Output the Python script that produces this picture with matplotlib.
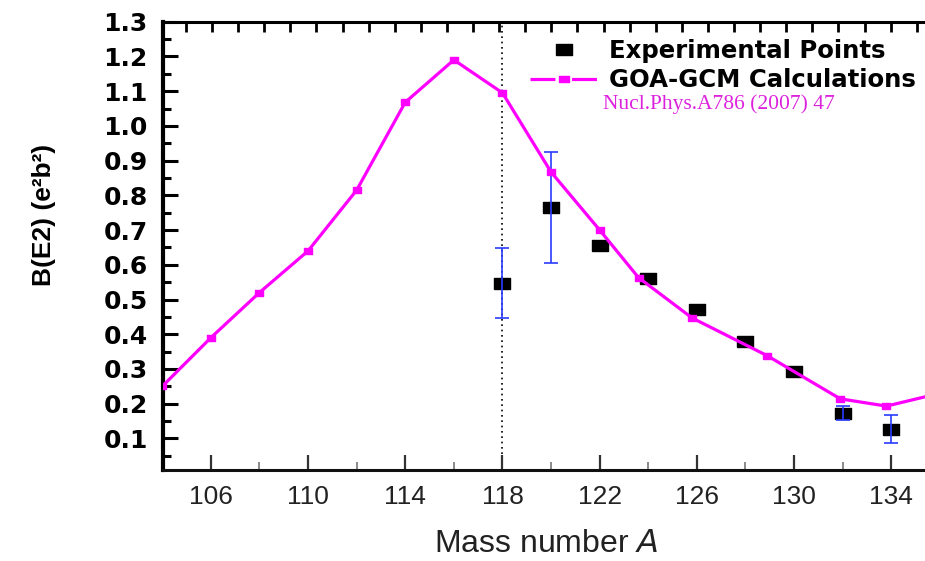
import numpy as np
import matplotlib
matplotlib.use('Agg')
import matplotlib.pyplot as plt
from matplotlib.ticker import MultipleLocator, FixedLocator
from matplotlib.lines import Line2D

# ---- data ----
calc_A = [104, 106, 108, 110, 112, 114, 116, 118, 120, 122, 123.6, 125.8, 128.9, 131.9, 133.8, 136]
calc_B = [0.25, 0.39, 0.52, 0.64, 0.815, 1.068, 1.19, 1.095, 0.867, 0.70, 0.563, 0.447, 0.338, 0.214, 0.193, 0.23]

exp_A = [118, 120, 122, 124, 126, 128, 130, 132, 134]
exp_B = [0.548, 0.765, 0.657, 0.563, 0.474, 0.38, 0.293, 0.172, 0.128]
exp_err = [0.10, 0.16, 0.0, 0.0, 0.0, 0.0, 0.0, 0.02, 0.04]

x_major = [106, 110, 114, 118, 122, 126, 130, 134]
x_labels = ['106', '110', '114', '118', '122', '126', '130', '134']
y_major = [0.1, 0.2, 0.3, 0.4, 0.5, 0.6, 0.7, 0.8, 0.9, 1.0, 1.1, 1.2, 1.3]
y_labels = ['0.1', '0.2', '0.3', '0.4', '0.5', '0.6', '0.7', '0.8', '0.9', '1.0', '1.1', '1.2', '1.3']
marked_A = 118

legend_labels = ['Experimental Points', 'GOA-GCM Calculations']
citation = 'Nucl.Phys.A786 (2007) 47'

MAG = '#ff00ff'
BLUE = '#2a3cff'

# ---- figure ----
W, H = 925, 561
fig = plt.figure(figsize=(W / 100, H / 100), dpi=100)
ax = fig.add_axes([163 / W, 91 / H, 767 / W, 448.3 / H])
ax.set_xlim(104.03, 104.03 + 767 / 24.3)
ax.set_ylim(0.009, 1.3)

# stretched rectangle markers (wider than tall)
rect = [(-1, -0.72), (1, -0.72), (1, 0.72), (-1, 0.72), (-1, -0.72)]

ax.axvline(marked_A, color='black', ls=(0, (1, 2.2)), lw=1.2, zorder=1)

ax.plot(exp_A, exp_B, ls='none', marker=rect, ms=11, color='black', zorder=2)
idx = [i for i, e in enumerate(exp_err) if e > 0]
ax.errorbar([exp_A[i] for i in idx], [exp_B[i] for i in idx],
            yerr=[exp_err[i] for i in idx], fmt='none', ecolor=BLUE,
            elinewidth=1.2, capsize=4.7, capthick=1.2, zorder=3)
ax.plot(calc_A, calc_B, color=MAG, lw=2.3, marker=rect, ms=5.8,
        mfc=MAG, mec=MAG, zorder=4)

# ---- spines ----
for s in ['left', 'bottom', 'top', 'right']:
    ax.spines[s].set_color('black')
ax.spines['left'].set_linewidth(3.0)
ax.spines['bottom'].set_linewidth(2.2)
ax.spines['bottom'].set_color('#111111')
ax.spines['top'].set_linewidth(2.2)
ax.spines['right'].set_visible(False)

# ---- x ticks ----
ax.xaxis.set_major_locator(FixedLocator(x_major))
ax.set_xticklabels(x_labels)
ax.xaxis.set_minor_locator(MultipleLocator(2))
ax.tick_params(axis='x', which='major', direction='in', length=11, width=1.6,
               color='#333333', pad=11, labelsize=19, labelcolor='#222222',
               top=False)
ax.tick_params(axis='x', which='minor', direction='in', length=6, width=1.2,
               color='#777777', top=False)
for t in ax.get_xticklabels():
    t.set_family('Liberation Sans')

# ---- y ticks ----
ax.yaxis.set_major_locator(FixedLocator(y_major))
ax.set_yticklabels(y_labels)
ax.yaxis.set_minor_locator(MultipleLocator(0.05))
ax.tick_params(axis='y', which='major', direction='in', length=11, width=2.2,
               color='black', pad=11, labelsize=18)
ax.tick_params(axis='y', which='minor', direction='in', length=5.5, width=2.2,
               color='black')
for t in ax.get_yticklabels():
    t.set_family('DejaVu Sans')
    t.set_fontweight('bold')

# top ticks (separate scale)
ax2 = ax.twiny()
ax2.set_xlim(0.119, 0.119 + 767 / 26.1)
ax2.xaxis.set_major_locator(MultipleLocator(1))
ax2.tick_params(axis='x', which='major', direction='in', length=7, width=2.0,
                color='black', labeltop=False, top=True, bottom=False)
for s in ['left', 'bottom', 'right', 'top']:
    ax2.spines[s].set_visible(False)

# ---- labels ----
ax.set_xlabel('Mass number $\\mathit{A}$', fontsize=23, family='Liberation Sans',
              color='#222222', labelpad=14)
ax.set_ylabel('B(E2) (e\u00b2b\u00b2)', fontsize=19,
              family=['Liberation Sans Narrow', 'Liberation Sans'],
              fontweight='bold')
ax.yaxis.set_label_coords(-0.14, 0.57)

# ---- legend ----
h1 = Line2D([], [], ls='none', marker=rect, ms=11, color='black')
h2 = Line2D([], [], color=MAG, lw=2.3, marker=rect, ms=7, ls=(0, (7.8, 5.2)))
leg = ax.legend([h1, h2], legend_labels, loc='upper left',
                bbox_to_anchor=(530 / W, 1 - 39 / H), bbox_transform=fig.transFigure,
                frameon=False, borderpad=0, borderaxespad=0, handlelength=2.77,
                handletextpad=0.45, labelspacing=0.22,
                prop={'family': 'DejaVu Sans', 'weight': 'bold', 'size': 17.6})

fig.text(603 / W, 1 - 104 / H, citation, family='Liberation Serif', fontsize=15.5,
         color='#dd22dd', ha='left', va='center')

fig.savefig('out.png', dpi=100)
